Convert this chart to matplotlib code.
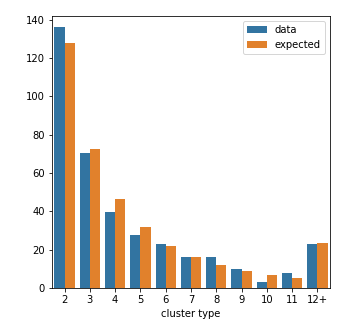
import numpy as np
import pandas as pd
import seaborn as sns
import matplotlib
matplotlib.use("Agg")
import matplotlib.pyplot as plt

cluster_types = ["2", "3", "4", "5", "6", "7", "8", "9", "10", "11", "12+"]
data_counts = [136, 70.5, 39.5, 27.4, 23.2, 16.3, 16.3, 10, 3.2, 7.9, 23.2]
expected_counts = [128, 72.5, 46.3, 31.6, 22.1, 16.3, 12.1, 8.9, 6.8, 5.3, 23.7]

df = pd.DataFrame({
    "cluster type": cluster_types * 2,
    "count": data_counts + expected_counts,
    "source": ["data"] * len(cluster_types) + ["expected"] * len(cluster_types),
})

fig = plt.figure(figsize=(358 / 72, 332 / 72), dpi=72)
ax = fig.add_axes([0.145, 0.1325, 0.777, 0.82])
sns.barplot(data=df, x="cluster type", y="count", hue="source",
            palette=["#3274a1", "#e1812c"], saturation=1, ax=ax)
ax.set_ylabel("")
ax.set_ylim(0, 142)
ax.set_yticks(np.arange(0, 141, 20))
ax.legend(loc="upper right")
fig.savefig("out.png", dpi=72)
